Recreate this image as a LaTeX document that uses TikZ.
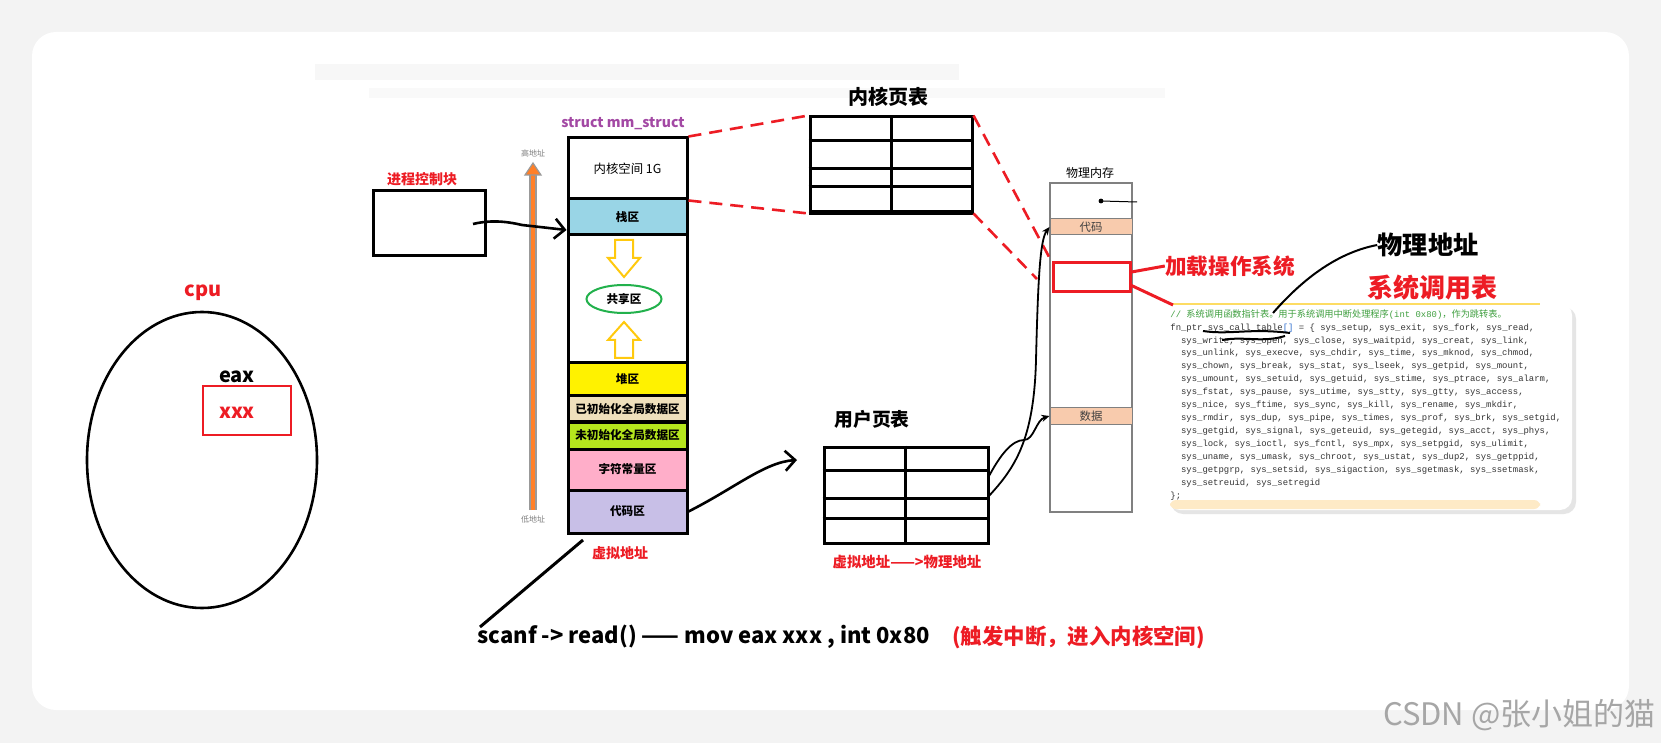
\documentclass[tikz,border=0pt]{standalone}
\usepackage{fontspec}
\usepackage{graphicx}
\setmainfont{Noto Sans CJK SC}
\setmonofont{Liberation Mono}
\newfontfamily\cjk{Noto Sans CJK SC}
\usetikzlibrary{shapes.geometric,arrows.meta}
\definecolor{pred}{HTML}{ED1C24}
\definecolor{ppurple}{HTML}{A349A4}
\definecolor{pblue}{HTML}{99D5E6}
\definecolor{pyellow}{HTML}{FFF200}
\definecolor{pbeige}{HTML}{EFE0BC}
\definecolor{plime}{HTML}{B5E61D}
\definecolor{ppink}{HTML}{FFAEC9}
\definecolor{plav}{HTML}{C8BFE7}
\definecolor{pgold}{HTML}{FFC90E}
\definecolor{pgreen}{HTML}{22B14C}
\definecolor{porange}{HTML}{FF7F27}
\definecolor{ppeach}{HTML}{F8CBAD}
\definecolor{cgreen}{HTML}{3F9F3F}
\definecolor{cblue}{HTML}{3070D0}
\definecolor{ctext}{HTML}{333333}
\definecolor{bggray}{HTML}{F3F3F3}
\newcommand\myfs[1]{\fontsize{#1}{#1}\selectfont}
\begin{document}
\begin{tikzpicture}[x=0.5pt,y=-0.5pt,
  seg/.style={draw, line width=1.5pt, minimum width=59.5pt, inner sep=0pt, font=\myfs{5.8}\bfseries},
  tbl/.style={draw, line width=1.5pt, inner sep=0pt},
  lbl/.style={inner sep=0pt},
  redlbl/.style={inner sep=0pt, text=pred, font=\bfseries},
  reddash/.style={pred, line width=1.3pt, dash pattern=on 6.5pt off 4pt},
  band/.style={draw=gray, line width=0.5pt, fill=ppeach, minimum width=41pt, minimum height=8pt, inner sep=0pt, font=\myfs{5.7}, text=black!75},
  chev/.style={line width=1.3pt, -{Straight Barb[length=5pt,width=10pt]}},
  thin/.style={line width=0.9pt, -{Stealth[length=4pt,width=3.5pt]}}
]
\useasboundingbox (0,0) rectangle (1661,743);
% background
\fill[bggray] (0,0) rectangle (1661,743);
\fill[white, rounded corners=12pt] (32,32) rectangle (1629,710);
\fill[black!3] (315,64) rectangle (959,80);
\fill[black!2.5] (369,88) rectangle (1165,98);

% CPU
\node[ellipse, draw, line width=1.3pt, minimum width=115pt, minimum height=148pt, inner sep=0pt] (cpu) at (202,460) {};
\node[redlbl, font=\myfs{10}\bfseries] (cpul) at (203,293) {cpu};
\node[draw=pred, line width=1.3pt, minimum width=44pt, minimum height=24.5pt, inner sep=0pt] (eaxbox) at (247,410.5) {};
\node[lbl, font=\myfs{10}\bfseries] (eaxl) at (237,377) {eax};
\node[redlbl, font=\myfs{10}\bfseries] (xxx) at (237,413) {xxx};

% PCB
\node[tbl, minimum width=56pt, minimum height=32.5pt] (pcb) at (429,223.5) {};
\node[redlbl, font=\myfs{7}\bfseries] (pcbl) at (422,179) {进程控制块};
\coordinate (pcbout) at (473,224);

% orange address arrow
\coordinate (ob) at (533,510);
\coordinate (ot) at (533,174);
\draw[gray!80, line width=3.6pt] (ob) -- (ot);
\draw[porange, line width=2.4pt] (ob) -- (ot);
\draw[gray!80, line width=0.6pt, fill=porange] (533,163) -- (541,175) -- (525,175) -- cycle;
\node[lbl, font=\myfs{4}, text=gray] (hi) at (533,153) {高地址};
\node[lbl, font=\myfs{4}, text=gray] (lo) at (533,519) {低地址};

% mm_struct segments
\node[lbl, font=\myfs{7}\bfseries, text=ppurple] (mml) at (623,124) {struct mm\_struct};
\node[seg, minimum height=30.5pt, fill=white, font=\myfs{6.2}] (kern) at (627.5,168.5) {内核空间 1G};
\node[seg, minimum height=18pt, fill=pblue] (stack) at (627.5,217) {栈区};
\node[seg, minimum height=64pt, fill=white] (mid) at (627.5,299) {};
\node[seg, minimum height=16.5pt, fill=pyellow] (heap) at (627.5,379.5) {堆区};
\node[seg, minimum height=13pt, fill=pbeige] (init) at (627.5,409) {已初始化全局数据区};
\node[seg, minimum height=13.5pt, fill=plime] (uninit) at (627.5,435.5) {未初始化全局数据区};
\node[seg, minimum height=20.5pt, fill=ppink] (str) at (627.5,469.5) {字符常量区};
\node[seg, minimum height=21.5pt, fill=plav] (code) at (627.5,511.5) {代码区};
\node[redlbl, font=\myfs{7}\bfseries] (vaddr) at (620,553) {虚拟地址};
% yellow arrows
\draw[pgold, line width=1pt, fill=white] (615,240) -- (633,240) -- (633,258) -- (640,258) -- (624,277) -- (608,258) -- (615,258) -- cycle;
\draw[pgold, line width=1pt, fill=white] (615,358) -- (633,358) -- (633,340) -- (640,340) -- (624,322) -- (608,340) -- (615,340) -- cycle;
\node[ellipse, draw=pgreen, line width=1pt, minimum width=37.5pt, minimum height=14pt, inner sep=0pt, font=\myfs{5.8}\bfseries] (share) at (624,299) {共享区};

% PCB arrow
\draw[chev] (pcbout) .. controls (490,220) and (505,221) .. (522,225) -- (stack.west |- 0,230);

% kernel page table
\node[lbl, font=\myfs{10}\bfseries] (ktl) at (888,97) {内核页表};
\node[tbl, minimum width=81pt, minimum height=47.5pt] (kt) at (891,164.5) {};
\draw[line width=1.5pt] (kt.north) -- (kt.south);
\draw[line width=1.5pt] (kt.west |- 0,141) -- (kt.east |- 0,141);
\draw[line width=1.5pt] (kt.west |- 0,169) -- (kt.east |- 0,169);
\draw[line width=1.5pt] (kt.west |- 0,187) -- (kt.east |- 0,187);
\draw[line width=1.9pt] (kt.south west) -- (kt.south east);
\draw[reddash] (kern.north east) -- (kt.north west);
\draw[reddash] (kern.south east) -- (kt.south west);

% user page table
\node[lbl, font=\myfs{9.4}\bfseries] (utl) at (872,419) {用户页表};
\node[tbl, minimum width=82pt, minimum height=48pt] (ut) at (906,495) {};
\draw[line width=1.5pt] (ut.north -| 905,0) -- (ut.south -| 905,0);
\draw[line width=1.5pt] (ut.west |- 0,470) -- (ut.east |- 0,470);
\draw[line width=1.5pt] (ut.west |- 0,498) -- (ut.east |- 0,498);
\draw[line width=1.5pt] (ut.west |- 0,518) -- (ut.east |- 0,518);
\node[redlbl, font=\myfs{7.2}\bfseries] (utnote) at (907,562) {虚拟地址——>物理地址};
\coordinate (utarr) at (797,460);
\draw[chev] (code.east) .. controls (735,488) and (765,462) .. (utarr);

% physical memory
\node[lbl, font=\myfs{6}] (pml) at (1090,173) {物理内存};
\node[draw=gray, line width=0.6pt, minimum width=41pt, minimum height=164.5pt, inner sep=0pt] (pm) at (1091,347.5) {};
\node[band] (pcode) at (1091,227) {代码};
\node[band] (pdata) at (1091,416) {数据};
\coordinate (dotp) at (1101,201);
\coordinate (dotq) at (1137,202);
\fill (dotp) circle (1.2pt);
\draw[line width=0.5pt] (dotp) -- (dotq);
\node[draw=pred, line width=1.5pt, minimum width=38.5pt, minimum height=14.5pt, inner sep=0pt] (rb) at (1091.5,277.5) {};
\draw[reddash] (kt.north east) -- (rb.north west);
\draw[reddash] (kt.south east) -- (1037,279);
\coordinate (ut1) at (988,497);
\coordinate (ut2) at (988,478);
\draw[thin] (ut1) .. controls (1015,468) and (1034,440) .. (1036,360) .. controls (1038,280) and (1040,240) .. (pcode.west);
\draw[thin] (ut2) .. controls (1000,455) and (1012,440) .. (1024,440) .. controls (1034,440) and (1036,420) .. (pdata.west);

% labels right
\node[redlbl, font=\myfs{10.8}\bfseries] (load) at (1230,266) {加载操作系统};
\draw[pred, line width=1.5pt] (rb.east |- 0,272) -- (load.west);
\node[lbl, font=\myfs{12.6}\bfseries] (paddr) at (1428,245) {物理地址};
\node[redlbl, font=\myfs{13}\bfseries] (sct) at (1432,288) {系统调用表};

% code panel
\fill[black!10, rounded corners=6pt] (1171,307) rectangle (1576,514);
\fill[white, rounded corners=6pt] (1168,303) rectangle (1572,510);
\fill[yellow!25!orange!20, rounded corners=3pt] (1170,500) rectangle (1540,509);
\draw[yellow!60!orange!60, line width=0.8pt] (1170,304) -- (1540,304);
\draw[pred, line width=1.5pt] (rb.south east) ++(0,-8) -- (1173,305);
\node[anchor=north west, inner sep=0pt, align=left, text=ctext,
      font=\fontsize{4.46}{6.465}\selectfont\ttfamily] (codetxt) at (1170,309) {%
{\color{cgreen}// {\cjk\fontsize{4.6}{6.465}\selectfont 系统调用函数指针表。用于系统调用中断处理程序}(int 0x80){\cjk\fontsize{4.6}{6.465}\selectfont ，作为跳转表。}}\\
fn\_ptr sys\_call\_table{\color{cblue}[]} = \{ sys\_setup, sys\_exit, sys\_fork, sys\_read,\\
\ \ sys\_write, sys\_open, sys\_close, sys\_waitpid, sys\_creat, sys\_link,\\
\ \ sys\_unlink, sys\_execve, sys\_chdir, sys\_time, sys\_mknod, sys\_chmod,\\
\ \ sys\_chown, sys\_break, sys\_stat, sys\_lseek, sys\_getpid, sys\_mount,\\
\ \ sys\_umount, sys\_setuid, sys\_getuid, sys\_stime, sys\_ptrace, sys\_alarm,\\
\ \ sys\_fstat, sys\_pause, sys\_utime, sys\_stty, sys\_gtty, sys\_access,\\
\ \ sys\_nice, sys\_ftime, sys\_sync, sys\_kill, sys\_rename, sys\_mkdir,\\
\ \ sys\_rmdir, sys\_dup, sys\_pipe, sys\_times, sys\_prof, sys\_brk, sys\_setgid,\\
\ \ sys\_getgid, sys\_signal, sys\_geteuid, sys\_getegid, sys\_acct, sys\_phys,\\
\ \ sys\_lock, sys\_ioctl, sys\_fcntl, sys\_mpx, sys\_setpgid, sys\_ulimit,\\
\ \ sys\_uname, sys\_umask, sys\_chroot, sys\_ustat, sys\_dup2, sys\_getppid,\\
\ \ sys\_getpgrp, sys\_setsid, sys\_sigaction, sys\_sgetmask, sys\_ssetmask,\\
\ \ sys\_setreuid, sys\_setregid\\
\};};
% handwritten pointer
\coordinate (hw1) at (1273,313);
\draw[line width=1pt] (paddr.west) .. controls (1335,253) and (1300,282) .. (hw1);
\coordinate (sc1) at (1203,331);
\coordinate (sc2) at (1290,333);
\draw[line width=1pt] (sc1) .. controls (1230,335) and (1250,328) .. (sc2);
\coordinate (sc3) at (1222,340);
\coordinate (sc4) at (1285,336);
\draw[line width=1pt] (sc3) .. controls (1245,336) and (1262,343) .. (sc4);

% bottom text
\node[lbl, font=\myfs{11}\bfseries, anchor=west] (asm) at (477,637) {scanf -> read() —— mov eax xxx , int 0x80};
\node[redlbl, font=\myfs{10.7}\bfseries, anchor=west] (trap) at (952,637) {(触发中断，进入内核空间)};
\coordinate (ln1) at (583,540);
\coordinate (ln2) at (480,627);
\draw[line width=1.5pt] (ln1) -- (ln2);

% watermark
\node[lbl, font=\myfs{15.5}, text=black!35, anchor=east] (wm) at (1656,715) {CSDN @张小姐的猫};
\end{tikzpicture}
\end{document}
